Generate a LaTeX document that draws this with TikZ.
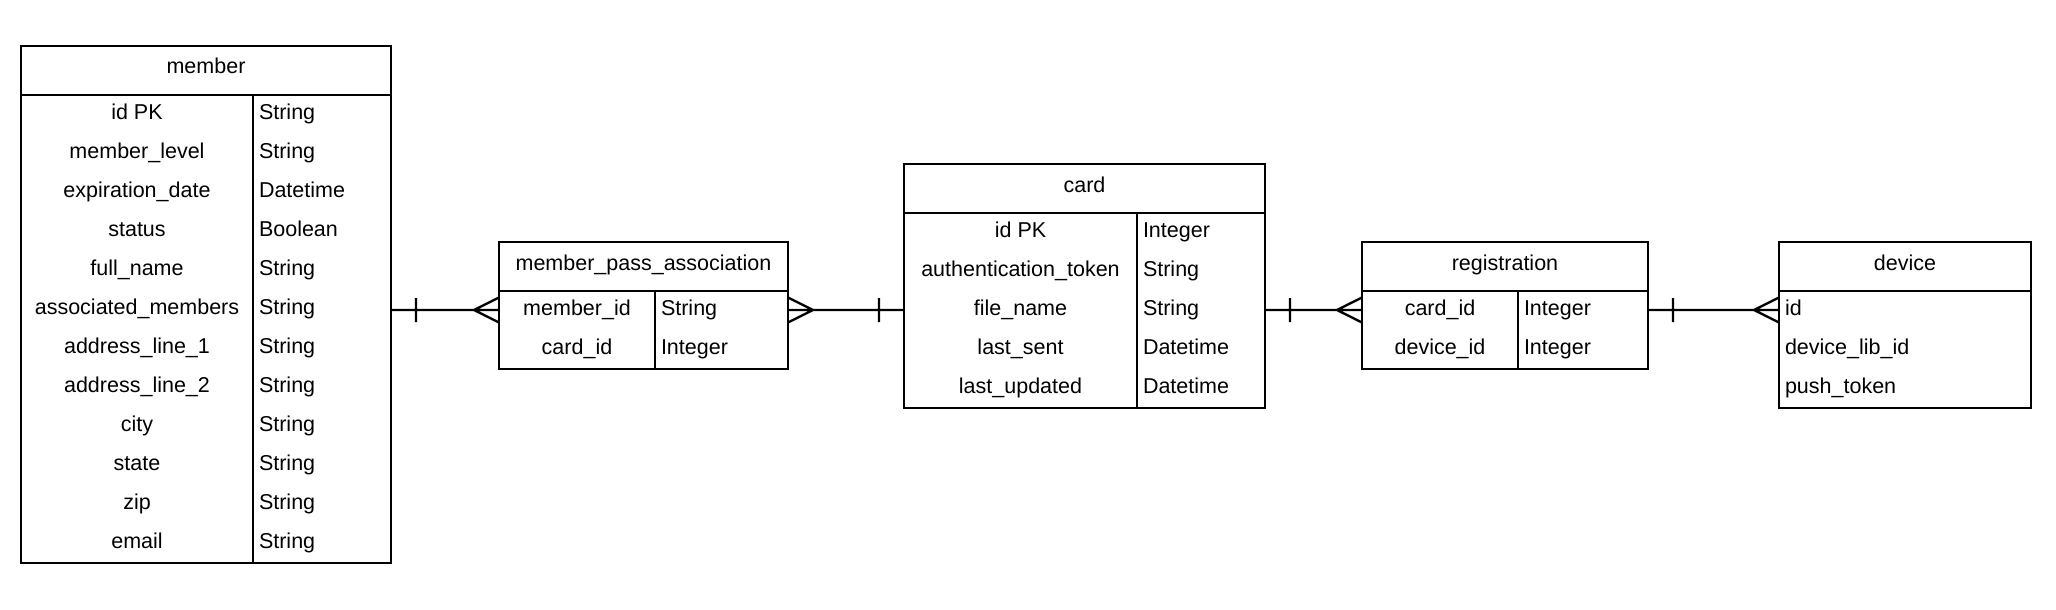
\documentclass[tikz,border=0pt]{standalone}
\usepackage{fontspec}
\setmainfont{Liberation Sans}
\usetikzlibrary{positioning,calc}
\tikzset{
  head/.style={draw,anchor=north west,minimum height=49,text height=13,text depth=6},
  body/.style={draw},
  key/.style={anchor=base,text height=15,text depth=4},
  typ/.style={anchor=base west,text height=15,text depth=4},
  onemany/.style={to path={-- (\tikztotarget)
    ($(\tikztostart)!25pt!(\tikztotarget)$) +(0,-12) -- +(0,12)
    ($(\tikztotarget)!25pt!(\tikztostart)$) -- ($(\tikztotarget)+(0,-12.5)$)
    ($(\tikztotarget)!25pt!(\tikztostart)$) -- ($(\tikztotarget)+(0,12.5)$)}}
}
\begin{document}
\begin{tikzpicture}[x=1pt,y=-1pt,line width=2.4pt,inner sep=0pt,outer sep=0pt,
  every node/.append style={font=\fontsize{21.5}{26}\selectfont}]
 \useasboundingbox (0,0) rectangle (2056,610);
 % member
 \node[head,minimum width=370] (member) at (21,46) {member};
 \node[body,minimum width=370,minimum height=468,below=0pt of member] (memberbody) {};
 \draw (memberbody.north west) ++(232,0) -- ++(0,468);
 \foreach \k/\t [count=\i] in {id PK/String,member\_level/String,expiration\_date/Datetime,
   status/Boolean,full\_name/String,associated\_members/String,address\_line\_1/String,
   address\_line\_2/String,city/String,state/String,zip/String,email/String}{
   \node[key] (member\i) at (137,{95+39*\i-14.5}) {\k};
   \node[typ] (membert\i) at (259,{95+39*\i-14.5}) {\t};
 }
 % member_pass_association
 \node[head,minimum width=289] (mpa) at (499,242) {member\_pass\_association};
 \node[body,minimum width=289,minimum height=78,below=0pt of mpa] (mpabody) {};
 \draw (mpabody.north west) ++(156,0) -- ++(0,78);
 \foreach \k/\t [count=\i] in {member\_id/String,card\_id/Integer}{
   \node[key] (mpa\i) at (577,{291+39*\i-14.5}) {\k};
   \node[typ] (mpat\i) at (661,{291+39*\i-14.5}) {\t};
 }
 % card
 \node[head,minimum width=361] (card) at (904,164) {card};
 \node[body,minimum width=361,minimum height=195,below=0pt of card] (cardbody) {};
 \draw (cardbody.north west) ++(233,0) -- ++(0,195);
 \foreach \k/\t [count=\i] in {id PK/Integer,authentication\_token/String,file\_name/String,
   last\_sent/Datetime,last\_updated/Datetime}{
   \node[key] (card\i) at (1020.5,{213+39*\i-14.5}) {\k};
   \node[typ] (cardt\i) at (1143,{213+39*\i-14.5}) {\t};
 }
 % registration
 \node[head,minimum width=286] (reg) at (1362,242) {registration};
 \node[body,minimum width=286,minimum height=78,below=0pt of reg] (regbody) {};
 \draw (regbody.north west) ++(156,0) -- ++(0,78);
 \foreach \k/\t [count=\i] in {card\_id/Integer,device\_id/Integer}{
   \node[key] (reg\i) at (1440,{291+39*\i-14.5}) {\k};
   \node[typ] (regt\i) at (1524,{291+39*\i-14.5}) {\t};
 }
 % device
 \node[head,minimum width=252] (device) at (1779,242) {device};
 \node[body,minimum width=252,minimum height=117,below=0pt of device] (devicebody) {};
 \foreach \k [count=\i] in {id,device\_lib\_id,push\_token}
   \node[typ] (device\i) at (1785,{291+39*\i-14.5}) {\k};
 % relations
 \draw (memberbody.east |- mpa1) to[onemany] (mpabody.west |- mpa1);
 \draw (cardbody.west |- mpa1) to[onemany] (mpabody.east |- mpa1);
 \draw (cardbody.east |- reg1) to[onemany] (regbody.west |- reg1);
 \draw (regbody.east |- device1) to[onemany] (devicebody.west |- device1);
\end{tikzpicture}
\end{document}
